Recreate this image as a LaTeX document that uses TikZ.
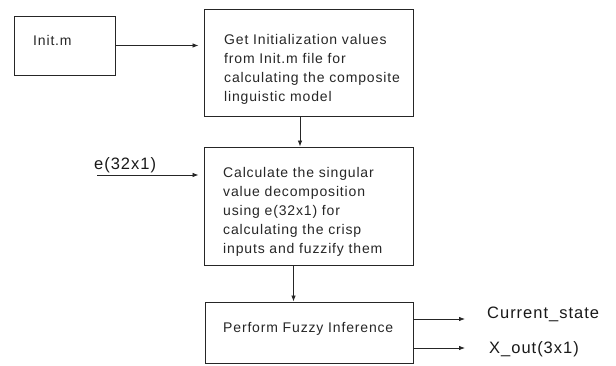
\documentclass[tikz,border=0pt]{standalone}
\usepackage{fontspec}
\setmainfont{Liberation Sans}
\newfontfamily\bfnt[LetterSpace=6]{Liberation Sans}
\newfontfamily\lfnt[LetterSpace=6]{Liberation Sans}
\usetikzlibrary{arrows.meta}
\begin{document}
\begin{tikzpicture}[x=1pt,y=-1pt,
  box/.style={draw=black!85, line width=0.9pt, inner sep=0pt},
  txt/.style={font=\bfnt\fontsize{14}{19}\selectfont, text=black!85, align=left, inner sep=0pt, anchor=base west},
  lbl/.style={font=\lfnt\fontsize{16.5}{20}\selectfont, text=black!90, inner sep=0pt, anchor=base west},
  arr/.style={draw=black!85, line width=0.8pt, -{Latex[length=6pt,width=4.5pt]}}]
\useasboundingbox (0,0) rectangle (616,366);
\node[box, minimum width=101pt, minimum height=59pt] (init) at (64.5,45.5) {};
\node[box, minimum width=209pt, minimum height=107pt] (b1) at (308.5,62.5) {};
\node[box, minimum width=209pt, minimum height=118pt] (b2) at (308.5,206) {};
\node[box, minimum width=208pt, minimum height=61pt] (b3) at (309,332.5) {};
\node[txt] (tinit) at (33,46) {Init.m};
\node[txt] (t1) at (224,102) {Get Initialization values\\from Init.m file for\\calculating the composite\\linguistic model};
\node[txt] (t2) at (223,254) {Calculate the singular\\value decomposition\\using e(32x1) for\\calculating the crisp\\inputs and fuzzify them};
\node[txt] (t3) at (223,332) {Perform Fuzzy Inference};
\coordinate (ein) at (97,175);
\coordinate (o1) at (465,319);
\coordinate (o2) at (465,348);
\node[lbl] (le) at (94,170) {e(32x1)};
\node[lbl] (lc) at (487,318) {Current\_state};
\node[lbl] (lx) at (489,353) {X\_out(3x1)};
\draw[arr, shorten >=5pt] (init.east) -- (init.east -| b1.west);
\draw[arr, shorten >=5pt] (ein) -- (ein -| b2.west);
\draw[arr] ([xshift=-8.5pt]b1.south) -- ([xshift=-8.5pt]b1.south |- b2.north);
\draw[arr] ([xshift=-15pt]b2.south) -- ([xshift=-15pt]b2.south |- b3.north);
\draw[arr] (o1 -| b3.east) -- (o1);
\draw[arr] (o2 -| b3.east) -- (o2);
\end{tikzpicture}
\end{document}
